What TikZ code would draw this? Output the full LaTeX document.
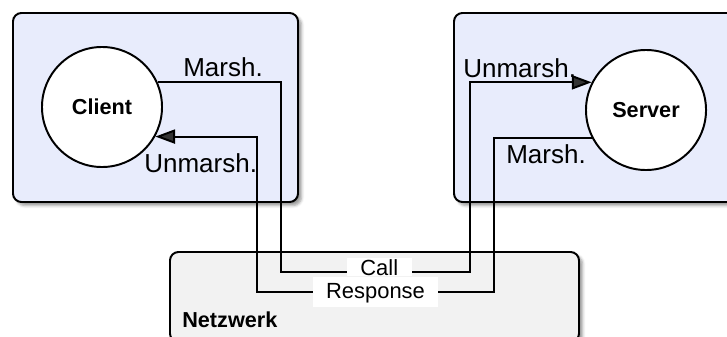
\documentclass[tikz,border=0pt]{standalone}
\usepackage{fontspec}
\setmainfont{Liberation Sans}
\usepackage{xcolor}
\usetikzlibrary{arrows.meta,shadows.blur}

\definecolor{hostfill}{RGB}{232,236,252}
\definecolor{netfill}{RGB}{242,242,242}

\begin{document}
\begin{tikzpicture}[x=0.025cm,y=-0.025cm,
    box/.style={draw,line width=1.4pt,rounded corners=6pt,
      blur shadow={shadow xshift=2.5pt,shadow yshift=-2.5pt,shadow blur radius=2pt}},
    proc/.style={draw,circle,fill=white,line width=1.4pt,minimum size=3cm,inner sep=0pt,
      font=\bfseries\fontsize{15.4}{18}\selectfont},
    conn/.style={line width=1.4pt,-{Triangle[length=14pt,width=10pt]}},
    lbl/.style={fill=white,inner xsep=9.5pt,inner ysep=4pt,text depth=0.22em,
      font=\fontsize{15.6}{18}\selectfont},
    note/.style={anchor=base west,inner sep=0pt,font=\fontsize{18.5}{22}\selectfont}]
  \useasboundingbox (0,0) rectangle (727,336);

  % hosts and network
  \draw[box,fill=hostfill] (13,13) rectangle (298,202);
  \draw[box,fill=hostfill] (454,13) rectangle (745,202);
  \draw[box,fill=netfill] (170,252) rectangle (579,342);
  \node[anchor=base west,inner sep=0pt,font=\bfseries\fontsize{15.4}{18}\selectfont] (net) at (182,327) {Netzwerk};

  % processes
  \node[proc] (client) at (102,107) {Client};
  \node[proc] (server) at (646,110) {Server};

  % call and response
  \draw[conn] (client.24) -| (281,272) -- node[lbl,pos=.52,inner ysep=1pt,text depth=0pt,yshift=3.5pt] (call) {Call} (470,272) |- (server.153);
  \draw[conn] (server.207) -| (494,292) -- node[lbl,pos=.5] (resp) {Response} (257,292) |- (client.-29);

  \node[note] (cmarsh) at (183,76) {Marsh.};
  \node[note] (cunmarsh) at (144,172) {Unmarsh.};
  \node[note] (sunmarsh) at (463,77) {Unmarsh.};
  \node[note] (smarsh) at (506,163) {Marsh.};
\end{tikzpicture}
\end{document}
